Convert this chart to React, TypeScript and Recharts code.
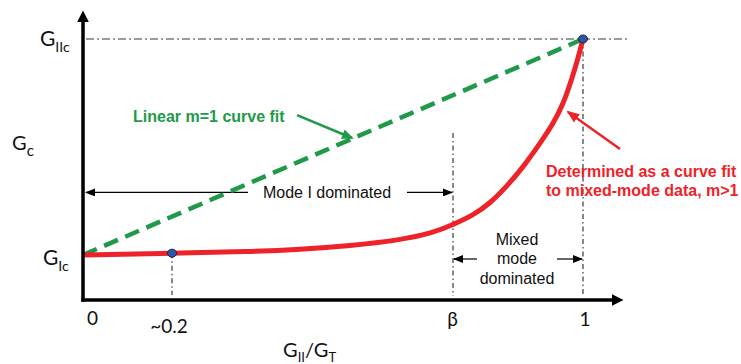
import React from "react";
import {
  ComposedChart,
  Line,
  Scatter,
  XAxis,
  YAxis,
  ReferenceLine,
  ReferenceDot,
} from "recharts";

// mode mixity G_II/G_T sampled along the fitted curve
const MIXITY = [0, 0.178, 0.334, 0.434, 0.534, 0.634, 0.7, 0.741, 0.781, 0.814, 0.847, 0.881, 0.914, 0.941, 0.961, 0.977, 0.991, 1];
// Gc on the m>1 curve fit (units of G_Ic)
const GC_CURVE = [1, 1.04, 1.075, 1.125, 1.205, 1.33, 1.49, 1.68, 1.889, 2.148, 2.518, 2.963, 3.481, 3.926, 4.37, 4.889, 5.407, 5.8];

// linear m=1 fit
const LINEAR_MIXITY = [0, 1];
const GC_LINEAR = [1, 5.8];

// marked points
const MARK_MIXITY = [0.178, 1];
const GC_MARK = [1.04, 5.8];

const G_IC = 1;
const G_IIC = 5.8;
const BETA = 0.74;

const X_TICKS = [0, 0.178, BETA, 1];
const X_TICK_LABELS = ["0", "~0.2", "β", "1"];
const Y_TICKS = [G_IC, G_IIC];
const Y_TICK_SUBS = ["Ic", "IIc"];

const curveData = MIXITY.map((x, i) => ({ x, g: GC_CURVE[i] }));
const linearData = LINEAR_MIXITY.map((x, i) => ({ x, g: GC_LINEAR[i] }));
const markData = MARK_MIXITY.map((x, i) => ({ x, g: GC_MARK[i] }));

const GREEN = "#1f9a48";
const RED = "#ee2229";
const BLUE = "#2f56a6";
const GREY = "#3a3a3a";
const SANS = "'Liberation Sans', Arial, sans-serif";
const LABEL_FONT = "Lato, 'Open Sans', sans-serif";

// tick text offsets from the axis (styling only)
const X_TICK_OFFSET = [
  { dx: 9.5, dy: 25 },
  { dx: -3, dy: 33 },
  { dx: -0.5, dy: 26 },
  { dx: 2, dy: 26 },
];

const renderXTick = (props: any) => {
  const { x, y, payload } = props;
  const i = X_TICKS.indexOf(payload.value);
  if (i < 0) return null;
  const o = X_TICK_OFFSET[i];
  return (
    <text x={x + o.dx} y={y + o.dy} textAnchor="middle" fontFamily={LABEL_FONT} fontSize={19} fill="#111">
      {X_TICK_LABELS[i]}
    </text>
  );
};

const renderYTick = (props: any) => {
  const { x, y, payload } = props;
  const i = Y_TICKS.indexOf(payload.value);
  if (i < 0) return null;
  const left = i === 0 ? 40 : 43;
  const down = i === 0 ? 9.5 : 7;
  return (
    <text x={x - left} y={y + down} fontFamily={LABEL_FONT} fontSize={21} fill="#111">
      <tspan>G</tspan>
      <tspan fontSize={14} dy={6}>
        {Y_TICK_SUBS[i]}
      </tspan>
    </text>
  );
};

const renderXLabel = (props: any) => {
  const vb = props.viewBox;
  return (
    <text x={vb.x + 200} y={vb.y + 57} fontFamily={LABEL_FONT} fontSize={20} fill="#111">
      <tspan>G</tspan>
      <tspan fontSize={13} dy={5}>II</tspan>
      <tspan dy={-5}>/G</tspan>
      <tspan fontSize={13} dy={5}>T</tspan>
    </text>
  );
};

const renderYLabel = (props: any) => {
  const vb = props.viewBox;
  return (
    <text x={vb.x + 12} y={vb.y + 142.5} fontFamily={LABEL_FONT} fontSize={20} fill="#111">
      <tspan>G</tspan>
      <tspan fontSize={15} dy={6}>c</tspan>
    </text>
  );
};

const renderMark = (props: any) => (
  <ellipse cx={props.cx} cy={props.cy} rx={4.5} ry={4} fill={BLUE} stroke="#1a2340" strokeWidth={1} />
);

type Note = {
  x: number;
  y: number;
  lines: string[];
  color: string;
  bold?: boolean;
  anchor: "start" | "middle";
  lh?: number;
};

const NOTES: Note[] = [
  { x: 0.1, y: 4.09, lines: ["Linear m=1 curve fit"], color: GREEN, bold: true, anchor: "start" },
  { x: 0.488, y: 2.39, lines: ["Mode I dominated"], color: "#111", anchor: "middle" },
  { x: 0.868, y: 1.356, lines: ["Mixed", "mode", "dominated"], color: "#111", anchor: "middle", lh: 19.5 },
  {
    x: 0.926,
    y: 2.867,
    lines: ["Determined as a curve fit", "to mixed-mode data, m>1"],
    color: RED,
    bold: true,
    anchor: "start",
    lh: 19,
  },
];

const noteContent = (n: Note) => (props: any) => {
  const vb = props.viewBox || props;
  const x = vb.x + (vb.width || 0) / 2;
  const y = vb.y + (vb.height || 0) / 2;
  return (
    <text
      x={x}
      y={y}
      textAnchor={n.anchor}
      dominantBaseline="central"
      fontFamily={SANS}
      fontSize={16}
      fontWeight={n.bold ? 700 : 400}
      fill={n.color}
    >
      {n.lines.map((l, i) => (
        <tspan key={i} x={x} dy={i === 0 ? 0 : n.lh}>
          {l}
        </tspan>
      ))}
    </text>
  );
};

export default function App() {
  return (
    <div style={{ position: "absolute", left: 0, top: 0, background: "#fff" }}>
      <ComposedChart width={741} height={364} margin={{ top: 7.5, right: 108, bottom: 0, left: 0 }}>
        <defs>
          <marker id="axisHead" markerUnits="userSpaceOnUse" markerWidth="13" markerHeight="12" refX="0.5" refY="6" orient="auto">
            <path d="M0,0 L12,6 L0,12 Z" fill="#000" />
          </marker>
          <marker id="thinHead" markerUnits="userSpaceOnUse" markerWidth="10" markerHeight="8" refX="9" refY="4" orient="auto">
            <path d="M0,0 L10,4 L0,8 Z" fill="#000" />
          </marker>
          <marker id="greenHead" markerUnits="userSpaceOnUse" markerWidth="12" markerHeight="10" refX="10" refY="5" orient="auto">
            <path d="M0,0 L12,5 L0,10 Z" fill={GREEN} />
          </marker>
          <marker id="redHead" markerUnits="userSpaceOnUse" markerWidth="13" markerHeight="10" refX="11" refY="5" orient="auto">
            <path d="M0,0 L13,5 L0,10 Z" fill={RED} />
          </marker>
        </defs>

        <XAxis
          type="number"
          dataKey="x"
          domain={[0, 1.1]}
          ticks={X_TICKS}
          interval={0}
          axisLine={false}
          tickLine={false}
          tickSize={0}
          tickMargin={0}
          height={64}
          tick={renderXTick}
          label={renderXLabel}
          allowDataOverflow
        />
        <YAxis
          type="number"
          dataKey="g"
          domain={[0, 6.5]}
          ticks={Y_TICKS}
          interval={0}
          axisLine={false}
          tickLine={false}
          tickSize={0}
          tickMargin={0}
          width={83}
          tick={renderYTick}
          label={renderYLabel}
          allowDataOverflow
        />

        {/* guide lines */}
        <ReferenceLine segment={[{ x: 0.006, y: G_IIC }, { x: 1.094, y: G_IIC }]} stroke={GREY} strokeWidth={1.2} strokeDasharray="8 3 2 3" />
        <ReferenceLine segment={[{ x: 1, y: G_IIC }, { x: 1, y: 0.09 }]} stroke={GREY} strokeWidth={1.2} strokeDasharray="5 3 1.5 3" />
        <ReferenceLine segment={[{ x: BETA, y: 3.71 }, { x: BETA, y: 0.09 }]} stroke={GREY} strokeWidth={1.2} strokeDasharray="5 3 1.5 3" />
        <ReferenceLine segment={[{ x: 0.178, y: 1.04 }, { x: 0.178, y: 0.11 }]} stroke={GREY} strokeWidth={1.2} strokeDasharray="5 3 1.5 3" />

        {/* region arrows */}
        <ReferenceLine segment={[{ x: 0.33, y: 2.39 }, { x: 0.006, y: 2.39 }]} stroke="#000" strokeWidth={1.2} markerEnd="url(#thinHead)" />
        <ReferenceLine segment={[{ x: 0.648, y: 2.39 }, { x: 0.738, y: 2.39 }]} stroke="#000" strokeWidth={1.2} markerEnd="url(#thinHead)" />
        <ReferenceLine segment={[{ x: 0.788, y: 0.911 }, { x: 0.742, y: 0.911 }]} stroke="#000" strokeWidth={1.2} markerEnd="url(#thinHead)" />
        <ReferenceLine segment={[{ x: 0.948, y: 0.911 }, { x: 0.998, y: 0.911 }]} stroke="#000" strokeWidth={1.2} markerEnd="url(#thinHead)" />

        {/* callout arrows */}
        <ReferenceLine segment={[{ x: 0.428, y: 4.11 }, { x: 0.538, y: 3.6 }]} stroke={GREEN} strokeWidth={2.5} markerEnd="url(#greenHead)" />
        <ReferenceLine segment={[{ x: 1.074, y: 3.356 }, { x: 0.97, y: 4.178 }]} stroke={RED} strokeWidth={2.5} markerEnd="url(#redHead)" />

        <Line
          data={linearData}
          dataKey="g"
          type="linear"
          stroke={GREEN}
          strokeWidth={4.5}
          strokeDasharray="15 8"
          dot={false}
          activeDot={false}
          isAnimationActive={false}
        />
        <Line
          data={curveData}
          dataKey="g"
          type="basis"
          stroke={RED}
          strokeWidth={5}
          dot={false}
          activeDot={false}
          isAnimationActive={false}
        />

        {/* axes with arrow heads */}
        <ReferenceLine segment={[{ x: 0, y: 0 }, { x: 0, y: 6.18 }]} stroke="#000" strokeWidth={3.5} strokeLinecap="square" markerEnd="url(#axisHead)" />
        <ReferenceLine segment={[{ x: 0, y: 0 }, { x: 1.058, y: 0 }]} stroke="#000" strokeWidth={3.5} strokeLinecap="square" markerEnd="url(#axisHead)" />

        <Scatter data={markData} dataKey="g" shape={renderMark} isAnimationActive={false} />

        {NOTES.map((n, i) => (
          <ReferenceDot key={i} x={n.x} y={n.y} r={0} stroke="none" fill="none" label={noteContent(n)} />
        ))}
      </ComposedChart>
    </div>
  );
}
